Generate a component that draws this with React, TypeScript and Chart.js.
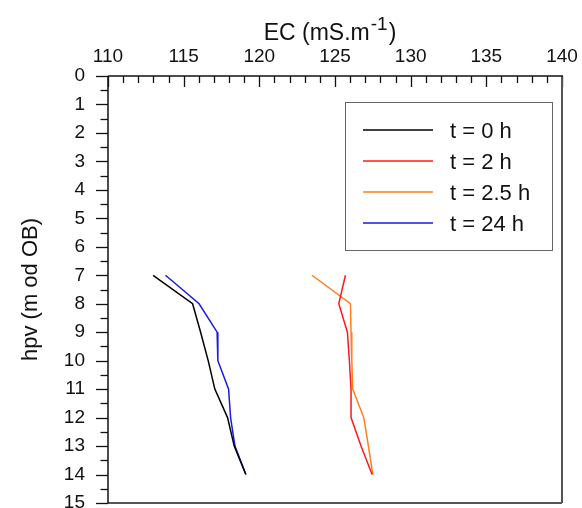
import React, { useEffect, useRef } from "react";
import { Chart, registerables } from "chart.js";

Chart.register(...registerables);

const depths = [7, 8, 9, 10, 11, 12, 13, 14];
const ecT0 = [112.98, 115.59, 116.12, 116.62, 117.06, 117.9, 118.34, 119.11];
const ecT2 = [125.69, 125.25, 125.82, 125.95, 126.06, 126.06, 126.72, 127.45];
const ecT25 = [123.48, 126.02, 126.06, 126.11, 126.17, 126.9, 127.21, 127.5];
const ecT24 = [113.8, 116.02, 117.21, 117.26, 117.97, 118.1, 118.39, 119.11];

const seriesLabels = ["t = 0 h", "t = 2 h", "t = 2.5 h", "t = 24 h"];
const seriesColors = ["#000000", "#ff1a1a", "#ff7f1e", "#1a1ae6"];
const seriesValues = [ecT0, ecT2, ecT25, ecT24];

const X_MIN = 110;
const X_MAX = 140;
const X_STEP = 5;
const Y_MIN = 0;
const Y_MAX = 15;
const X_TITLE = "EC (mS.m";
const X_TITLE_SUP = "-1";
const Y_TITLE = "hpv (m od OB)";

const FONT = "'Liberation Sans', Arial, sans-serif";

const framePlugin = {
  id: "frame",
  afterDraw(chart: any) {
    const { ctx, chartArea: a, scales } = chart;
    const xs = scales.x;
    const ys = scales.y;
    ctx.save();
    const line = (x1: number, y1: number, x2: number, y2: number) => {
      ctx.beginPath();
      ctx.moveTo(x1, y1);
      ctx.lineTo(x2, y2);
      ctx.stroke();
    };
    // top ticks (inside)
    ctx.strokeStyle = "#111";
    ctx.lineWidth = 1.3;
    for (let v = X_MIN; v <= X_MAX; v += 1) {
      const px = Math.round(xs.getPixelForValue(v)) + 0.5;
      const len = v % X_STEP === 0 ? 11 : 7;
      line(px, a.top, px, a.top + len);
    }
    // left ticks (outside)
    for (let v = Y_MIN; v <= Y_MAX; v += 0.5) {
      const py = Math.round(ys.getPixelForValue(v)) + 0.5;
      const len = Number.isInteger(v) ? 12 : 7.5;
      line(a.left - len, py, a.left, py);
    }
    // borders
    ctx.strokeStyle = "#555";
    ctx.lineWidth = 2;
    line(a.right, a.top, a.right, a.bottom);
    line(a.left, a.bottom, a.right, a.bottom);
    ctx.strokeStyle = "#111";
    ctx.lineWidth = 1.5;
    line(a.left, a.top, a.right + 1, a.top);
    line(a.left, a.top, a.left, a.bottom);

    // x title with superscript
    ctx.fillStyle = "#111";
    ctx.textBaseline = "alphabetic";
    ctx.textAlign = "left";
    const mainFont = `23px ${FONT}`;
    const supFont = `19px ${FONT}`;
    ctx.font = mainFont;
    const w1 = ctx.measureText(X_TITLE).width;
    const w3 = ctx.measureText(")").width;
    ctx.font = supFont;
    const w2 = ctx.measureText(X_TITLE_SUP).width;
    const total = w1 + w2 + w3;
    const cx = (a.left + a.right) / 2 - 6;
    let x0 = cx - total / 2;
    const base = 39.5;
    ctx.font = mainFont;
    ctx.fillText(X_TITLE, x0, base);
    ctx.font = supFont;
    ctx.fillText(X_TITLE_SUP, x0 + w1 + 1, base - 10);
    ctx.font = mainFont;
    ctx.fillText(")", x0 + w1 + w2 + 2, base);

    // legend
    const lx = 345.5, ly = 102.5, lw = 207, lh = 148;
    ctx.strokeStyle = "#666";
    ctx.lineWidth = 1;
    ctx.strokeRect(lx, ly, lw, lh);
    ctx.font = `22px ${FONT}`;
    seriesLabels.forEach((lab, i) => {
      const y = 130 + i * 31;
      ctx.strokeStyle = seriesColors[i];
      ctx.lineWidth = 1.5;
      line(363, y, 433, y);
      ctx.fillStyle = "#111";
      ctx.fillText(lab, 450, y + 8);
    });
    ctx.restore();
  },
};

export default function App() {
  const ref = useRef<HTMLCanvasElement>(null);
  useEffect(() => {
    if (!ref.current) return;
    const chart = new Chart(ref.current, {
      type: "line",
      data: {
        datasets: seriesValues.map((vals, i) => ({
          label: seriesLabels[i],
          data: vals.map((v, j) => ({ x: v, y: depths[j] })),
          borderColor: seriesColors[i],
          backgroundColor: seriesColors[i],
          borderWidth: 1.5,
          pointRadius: 0,
          tension: 0,
          fill: false,
        })),
      },
      options: {
        animation: false,
        responsive: false,
        devicePixelRatio: 1,
        layout: { padding: { left: 0, top: 0, right: 20, bottom: 5 } },
        plugins: { legend: { display: false }, tooltip: { enabled: false } },
        scales: {
          x: {
            type: "linear",
            position: "top",
            min: X_MIN,
            max: X_MAX,
            grid: { display: false, drawTicks: false },
            border: { display: false },
            ticks: {
              stepSize: X_STEP,
              color: "#111",
              padding: 8,
              maxRotation: 0,
              font: { family: FONT, size: 19 },
            },
            afterFit: (s: any) => {
              s.height = 76;
              s.paddingLeft = 0;
              s.paddingRight = 0;
            },
          },
          y: {
            type: "linear",
            reverse: true,
            min: Y_MIN,
            max: Y_MAX,
            grid: { display: false, drawTicks: false },
            border: { display: false },
            ticks: {
              stepSize: 1,
              color: "#111",
              padding: 23,
              font: { family: FONT, size: 19 },
            },
            title: {
              display: true,
              text: Y_TITLE,
              color: "#111",
              font: { family: FONT, size: 22 },
              padding: { top: 18, bottom: 0 },
            },
            afterFit: (s: any) => {
              s.width = 108;
              s.paddingTop = 0;
              s.paddingBottom = 0;
            },
          },
        },
      },
      plugins: [framePlugin],
    });
    return () => chart.destroy();
  }, []);
  return (
    <div style={{ position: "fixed", left: 0, top: 0, width: 582, height: 508, background: "#fff" }}>
      <canvas ref={ref} width={582} height={508} style={{ width: 582, height: 508, display: "block" }} />
    </div>
  );
}
